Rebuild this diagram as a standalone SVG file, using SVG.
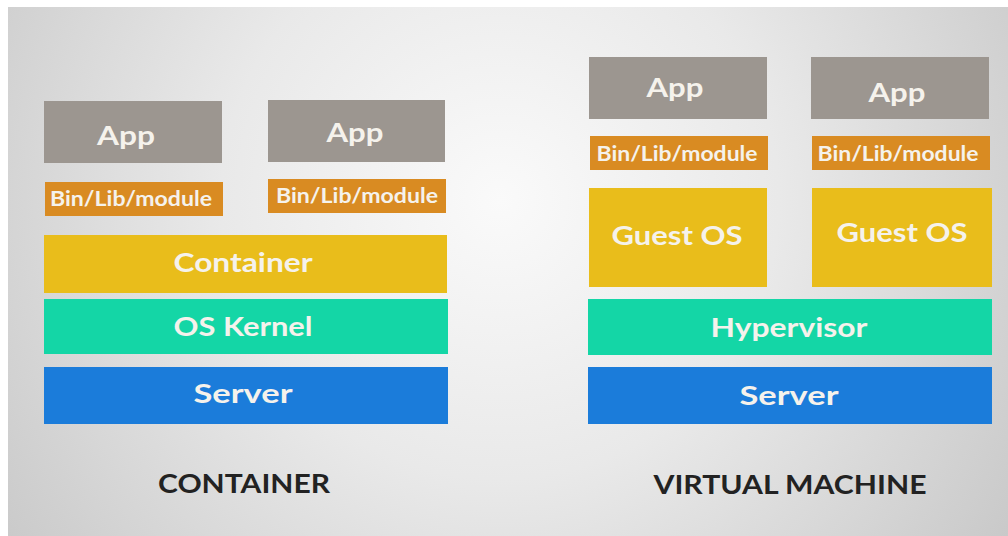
<svg xmlns="http://www.w3.org/2000/svg" width="1008" height="536" viewBox="0 0 1008 536">
<defs>
<radialGradient id="bg" cx="500" cy="200" r="620" gradientUnits="userSpaceOnUse">
<stop offset="0" stop-color="#fafafa"/>
<stop offset="0.45" stop-color="#e9e9e9"/>
<stop offset="1" stop-color="#c8c8c8"/>
</radialGradient>
</defs>
<style>
.lbl{font-family:Lato,"Liberation Sans",sans-serif;font-weight:700;fill:#f5f2ec;text-anchor:middle}
.big{font-size:27px}
.sm{font-size:21px}
.title{font-family:Lato,"Liberation Sans",sans-serif;font-weight:700;font-size:27px;fill:#222;text-anchor:middle}
.app{fill:#9c9690}
.bin{fill:#d98b22}
.yel{fill:#e9bd1b}
.teal{fill:#14d6a6}
.blue{fill:#1b7cda}
</style>
<rect width="1008" height="536" fill="#ffffff"/>
<rect x="8" y="7" width="1000" height="529" fill="url(#bg)"/>
<g id="connectors"></g>
<g id="c-app1"><rect class="app" x="44" y="101" width="178" height="62"/><text class="lbl big" x="126" y="145" textLength="58" lengthAdjust="spacingAndGlyphs">App</text></g>
<g id="c-app2"><rect class="app" x="268" y="100" width="177" height="62"/><text class="lbl big" x="355" y="142" textLength="57" lengthAdjust="spacingAndGlyphs">App</text></g>
<g id="c-bin1"><rect class="bin" x="45" y="182" width="178" height="34"/><text class="lbl sm" x="131" y="206" textLength="162" lengthAdjust="spacingAndGlyphs">Bin/Lib/module</text></g>
<g id="c-bin2"><rect class="bin" x="268" y="179" width="178" height="34"/><text class="lbl sm" x="357" y="203" textLength="162" lengthAdjust="spacingAndGlyphs">Bin/Lib/module</text></g>
<g id="c-container"><rect class="yel" x="44" y="235" width="403" height="58"/><text class="lbl big" x="243" y="272" textLength="139" lengthAdjust="spacingAndGlyphs">Container</text></g>
<g id="c-kernel"><rect class="teal" x="44" y="299" width="404" height="55"/><text class="lbl big" x="243" y="336" textLength="139" lengthAdjust="spacingAndGlyphs">OS Kernel</text></g>
<g id="c-server"><rect class="blue" x="44" y="367" width="404" height="57"/><text class="lbl big" x="243" y="403" textLength="99" lengthAdjust="spacingAndGlyphs">Server</text></g>
<g id="c-title"><text class="title" x="244" y="493" textLength="172" lengthAdjust="spacingAndGlyphs">CONTAINER</text></g>
<g id="v-app1"><rect class="app" x="589" y="57" width="178" height="62"/><text class="lbl big" x="675" y="97" textLength="57" lengthAdjust="spacingAndGlyphs">App</text></g>
<g id="v-app2"><rect class="app" x="811" y="57" width="178" height="62"/><text class="lbl big" x="897" y="102" textLength="57" lengthAdjust="spacingAndGlyphs">App</text></g>
<g id="v-bin1"><rect class="bin" x="590" y="136" width="178" height="34"/><text class="lbl sm" x="677" y="161" textLength="161" lengthAdjust="spacingAndGlyphs">Bin/Lib/module</text></g>
<g id="v-bin2"><rect class="bin" x="812" y="136" width="178" height="34"/><text class="lbl sm" x="898" y="161" textLength="161" lengthAdjust="spacingAndGlyphs">Bin/Lib/module</text></g>
<g id="v-guest1"><rect class="yel" x="589" y="188" width="178" height="99"/><text class="lbl big" x="677" y="245" textLength="131" lengthAdjust="spacingAndGlyphs">Guest OS</text></g>
<g id="v-guest2"><rect class="yel" x="812" y="188" width="180" height="99"/><text class="lbl big" x="902" y="242" textLength="131" lengthAdjust="spacingAndGlyphs">Guest OS</text></g>
<g id="v-hyper"><rect class="teal" x="588" y="299" width="404" height="56"/><text class="lbl big" x="789" y="337" textLength="157" lengthAdjust="spacingAndGlyphs">Hypervisor</text></g>
<g id="v-server"><rect class="blue" x="588" y="367" width="404" height="57"/><text class="lbl big" x="789" y="405" textLength="99" lengthAdjust="spacingAndGlyphs">Server</text></g>
<g id="v-title"><text class="title" x="790" y="494" textLength="273" lengthAdjust="spacingAndGlyphs">VIRTUAL MACHINE</text></g>
</svg>
